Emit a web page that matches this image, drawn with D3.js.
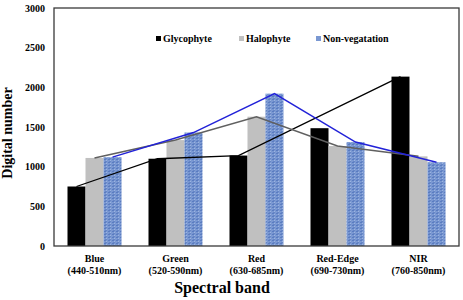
<!DOCTYPE html>
<html><head><meta charset="utf-8">
<script src="https://cdn.jsdelivr.net/npm/d3@7"></script>
<style>body{margin:0;background:#fff}svg{display:block}</style>
</head><body>
<svg id="c" width="463" height="300"></svg>
<script>
const bands = ["Blue","Green","Red","Red-Edge","NIR"];
const ranges = ["(440-510nm)","(520-590nm)","(630-685nm)","(690-730nm)","(760-850nm)"];
const series = ["Glycophyte","Halophyte","Non-vegatation"];
const glycophyte = [750, 1100, 1140, 1485, 2135];
const halophyte = [1110, 1335, 1630, 1260, 1130];
const nonVegetation = [1120, 1430, 1920, 1310, 1055];
// trend lines (black line in the figure skips Red-Edge)
const glycoLine = [["Blue",750],["Green",1100],["Red",1140],["NIR",2135]];
const yTicks = [0,500,1000,1500,2000,2500,3000];

const W=463,H=300, m={l:54,r:4,t:8,b:54};
const svg=d3.select("#c");
const font="'Liberation Serif','Times New Roman',serif";
const defs=svg.append("defs");
const pat=defs.append("pattern").attr("id","tex").attr("patternUnits","userSpaceOnUse").attr("width",4).attr("height",3);
pat.append("rect").attr("width",4).attr("height",3).attr("fill","#7a98d2");
pat.append("rect").attr("x",0).attr("y",0).attr("width",2).attr("height",1).attr("fill","#5a7cc0");
pat.append("rect").attr("x",2).attr("y",1).attr("width",1).attr("height",1).attr("fill","#9cb4e0");
pat.append("rect").attr("x",1).attr("y",2).attr("width",2).attr("height",1).attr("fill","#6686c6");

const x=d3.scaleBand().domain(bands).range([m.l,W-m.r]).paddingInner(1/3).paddingOuter(1/6);
const xs=d3.scaleBand().domain(series).range([0,x.bandwidth()]);
const y=d3.scaleLinear().domain([0,3000]).range([H-m.b,m.t]);
const fills=["#000000","#c0c0c0","url(#tex)"];
const data=[glycophyte,halophyte,nonVegetation];

// bars
data.forEach((vals,si)=>{
  svg.append("g").selectAll("rect").data(vals).join("rect")
    .attr("x",(d,i)=>x(bands[i])+xs(series[si]))
    .attr("y",d=>y(d))
    .attr("width",xs.bandwidth())
    .attr("height",d=>y(0)-y(d))
    .attr("fill",fills[si]);
});

// lines
const cx=(b,s)=>x(b)+xs(s)+xs.bandwidth()/2;
const line=d3.line();
svg.append("path").attr("fill","none").attr("stroke","#000").attr("stroke-width",1.3)
  .attr("d",line(glycoLine.map(([b,v])=>[cx(b,series[0]),y(v)])));
svg.append("path").attr("fill","none").attr("stroke","#606060").attr("stroke-width",1.5)
  .attr("d",line(halophyte.map((v,i)=>[cx(bands[i],series[1]),y(v)])));
svg.append("path").attr("fill","none").attr("stroke","#2222d8").attr("stroke-width",1.5)
  .attr("d",line(nonVegetation.map((v,i)=>[cx(bands[i],series[2]),y(v)])));

// frame
svg.append("rect").attr("x",m.l).attr("y",m.t).attr("width",W-m.r-m.l).attr("height",H-m.b-m.t)
  .attr("fill","none").attr("stroke","#3a3a3a").attr("stroke-width",1.3);

// y axis
const ya=svg.append("g").attr("transform",`translate(${m.l},0)`)
  .call(d3.axisLeft(y).tickValues(yTicks).tickFormat(d3.format("d")).tickSize(0).tickPadding(9));
ya.attr("font-family",font);
ya.select(".domain").remove();
ya.selectAll("text").attr("font-family",font).attr("font-weight","bold").attr("font-size",10).attr("fill","#000");

// x labels
const xl=svg.append("g");
bands.forEach((b,i)=>{
  const t=xl.append("text").attr("x",x(b)+x.bandwidth()/2).attr("text-anchor","middle")
    .attr("font-family",font).attr("font-weight","bold").attr("font-size",10);
  t.append("tspan").attr("x",x(b)+x.bandwidth()/2).attr("y",262).text(b);
  t.append("tspan").attr("x",x(b)+x.bandwidth()/2).attr("y",273.5).text(ranges[i]);
});
svg.append("text").attr("x",222).attr("y",293).attr("text-anchor","middle")
  .attr("font-family",font).attr("font-weight","bold").attr("font-size",16).text("Spectral band");
svg.append("text").attr("transform","translate(12,133) rotate(-90)").attr("text-anchor","middle")
  .attr("font-family",font).attr("font-weight","bold").attr("font-size",14).text("Digital number");

// legend
const lx=[156,239,316];
const lfills=["#000","#c0c0c0","#7a98d2"];
series.forEach((s,i)=>{
  svg.append("rect").attr("x",lx[i]).attr("y",36).attr("width",5).attr("height",5).attr("fill",lfills[i]);
  svg.append("text").attr("x",lx[i]+7).attr("y",42).attr("font-family",font).attr("font-weight","bold")
    .attr("font-size",10).text(s);
});
</script>
</body></html>
